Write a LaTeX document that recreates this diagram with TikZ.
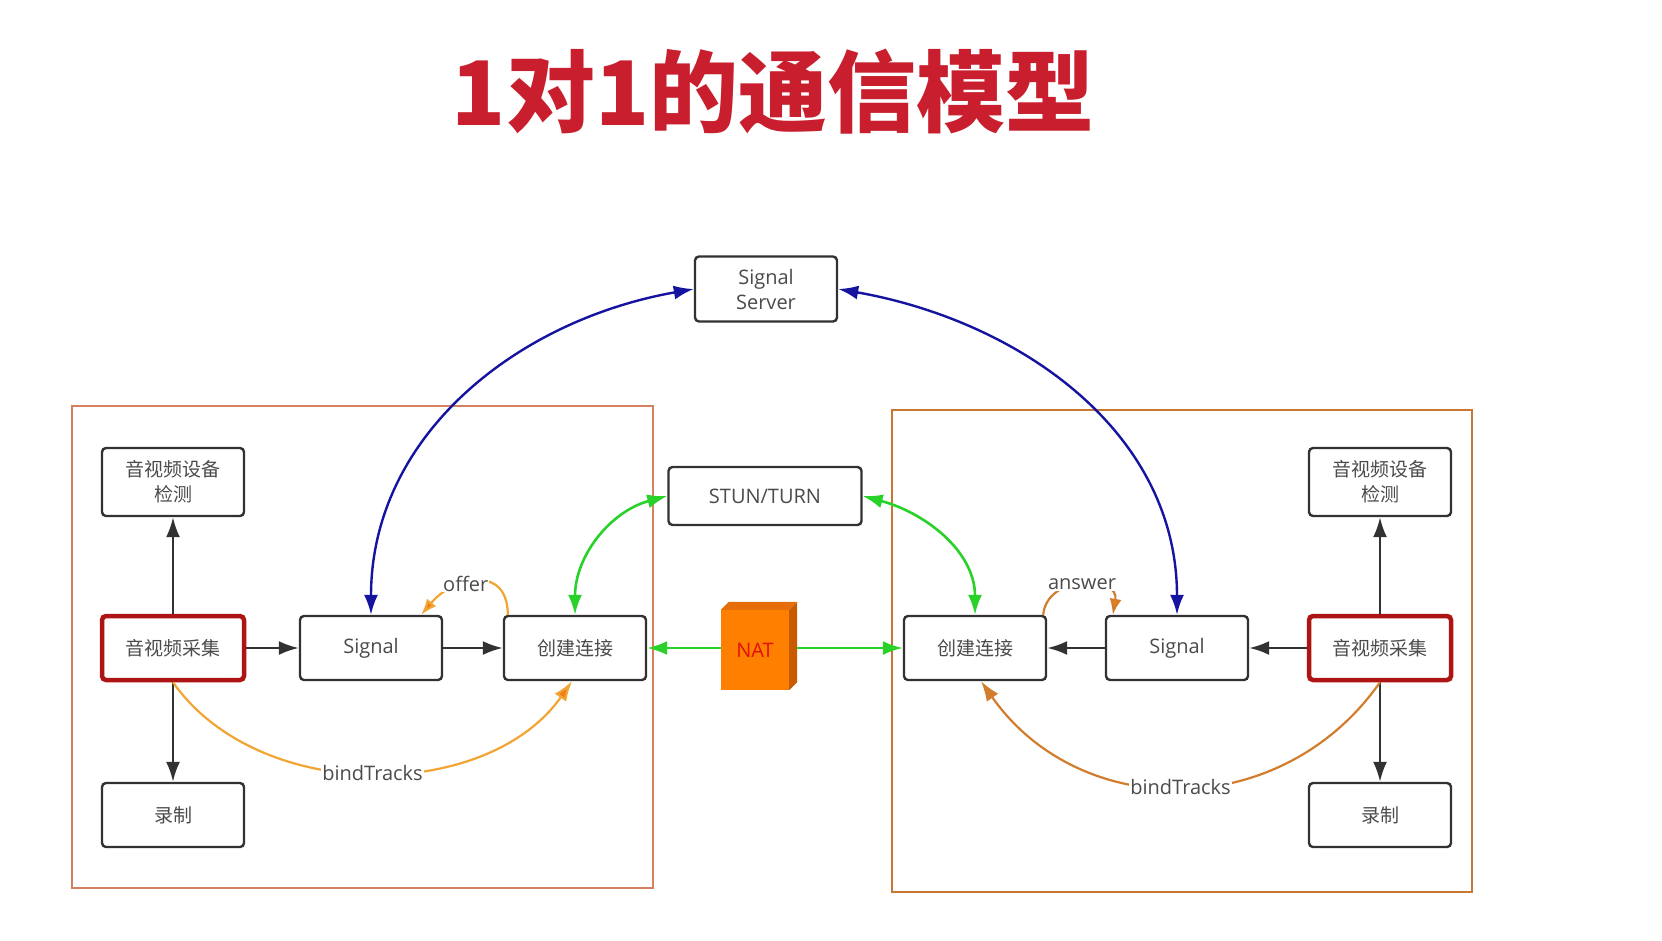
\documentclass[tikz,border=0pt]{standalone}
\usepackage{fontspec}
\setmainfont{Open Sans}
\newfontfamily\cjk{Noto Sans CJK SC}
\usetikzlibrary{arrows.meta}
\definecolor{boxline}{RGB}{50,50,50}
\definecolor{textgray}{RGB}{75,75,75}
\definecolor{capred}{RGB}{175,20,20}
\definecolor{titlered}{RGB}{200,30,45}
\definecolor{lframe}{RGB}{214,128,98}
\definecolor{rframe}{RGB}{200,120,50}
\definecolor{sigblue}{RGB}{20,20,160}
\definecolor{netgreen}{RGB}{40,210,40}
\definecolor{orgL}{RGB}{242,165,50}
\definecolor{orgR}{RGB}{210,125,45}
\definecolor{orgtip}{RGB}{240,125,20}
\definecolor{natfront}{RGB}{255,128,0}
\definecolor{natside}{RGB}{200,90,0}
\definecolor{nattop}{RGB}{230,110,10}
\begin{document}
\begin{tikzpicture}[x=1pt,y=1pt,
  box/.style={draw=boxline, line width=2.4pt, rounded corners=4pt, fill=white,
    text=textgray, minimum width=142pt, minimum height=64pt, inner sep=2pt,
    font=\fontsize{20}{25}\selectfont, align=center},
  cjkbox/.style={box, font=\cjk\fontsize{19}{25}\selectfont},
  capbox/.style={cjkbox, draw=capred, line width=4.5pt},
  blk/.style={draw=boxline, line width=2.4pt, -{Latex[length=20pt,width=14pt]}},
  bluearrow/.style={draw=sigblue, line width=2.4pt, {Latex[length=20pt,width=14pt]}-{Latex[length=20pt,width=14pt]}},
  greenarrow/.style={draw=netgreen, line width=2.6pt, {Latex[length=20pt,width=14pt]}-{Latex[length=20pt,width=14pt]}},
  greenone/.style={draw=netgreen, line width=2.6pt, -{Latex[length=20pt,width=14pt]}},
  orangearrow/.style={draw=orgL, line width=2.2pt, -{Latex[length=16pt,width=12pt,fill=orgtip]}},
  bindL/.style={draw=orgL, line width=2.2pt, -{Latex[length=20pt,width=14pt,fill=orgtip]}},
  bindR/.style={draw=orgR, line width=2.2pt, -{Latex[length=20pt,width=14pt,fill=orgR]}},
  lbl/.style={fill=white, inner sep=1pt, text=textgray, font=\fontsize{20}{24}\selectfont},
  frame/.style={line width=2pt}
]
\useasboundingbox (0,0) rectangle (1662,-940);
\fill[white] (0,0) rectangle (1662,-940);

% title
\node[text=titlered, font=\cjk\bfseries\fontsize{89}{95}\selectfont] (title) at (773,-92) {1对1的通信模型};

% frames
\draw[frame, draw=lframe] (72,-406) rectangle (653,-888);
\draw[frame, draw=rframe] (892,-410) rectangle (1472,-892);

% central nodes
\node[box, minimum height=65pt] (ss) at (766,-289) {Signal\\Server};
\node[box, minimum width=193pt, minimum height=58pt] (stun) at (765,-496) {STUN/TURN};
\node[fill=natfront, minimum width=68pt, minimum height=80pt, inner sep=0pt,
      text={rgb,255:red,225;green,15;blue,15}, font=\fontsize{20}{24}\selectfont] (nat) at (755,-650) {NAT};
\fill[nattop] (nat.north west) -- ++(8,8) -- ([shift={(8,8)}]nat.north east) -- (nat.north east) -- cycle;
\fill[natside] (nat.north east) -- ++(8,8) -- ([shift={(8,8)}]nat.south east) -- (nat.south east) -- cycle;
\coordinate (natl) at (nat.west |- 0,-648);
\coordinate (natr) at ([xshift=8pt]nat.east |- 0,-648);

% left side
\node[cjkbox, minimum height=68pt] (ldet) at (173,-482) {音视频设备\\检测};
\node[capbox] (lcap) at (173,-648) {音视频采集};
\node[cjkbox] (lrec) at (173,-815) {录制};
\node[box] (lsig) at (371,-648) {Signal};
\node[cjkbox] (lconn) at (575,-648) {创建连接};

% right side
\node[cjkbox] (rconn) at (975,-648) {创建连接};
\node[box] (rsig) at (1177,-648) {Signal};
\node[capbox] (rcap) at (1380,-648) {音视频采集};
\node[cjkbox, minimum height=68pt] (rdet) at (1380,-482) {音视频设备\\检测};
\node[cjkbox] (rrec) at (1380,-815) {录制};

% black arrows
\draw[blk] (lcap) -- (ldet);
\draw[blk] (lcap) -- (lrec);
\draw[blk] (lcap) -- (lsig);
\draw[blk] (lsig) -- (lconn);
\draw[blk] (rcap) -- (rdet);
\draw[blk] (rcap) -- (rrec);
\draw[blk] (rcap) -- (rsig);
\draw[blk] (rsig) -- (rconn);

% signalling
\draw[bluearrow] (lsig.north) to[out=90,in=190] (ss.west);
\draw[bluearrow] (rsig.north) to[out=90,in=-10] (ss.east);

% stun / nat
\draw[greenarrow] (lconn.north) to[out=90,in=195] (stun.west);
\draw[greenarrow] (rconn.north) to[out=90,in=-15] (stun.east);
\draw[greenone] (natl) -- (lconn.east);
\draw[greenone] (natr) -- (rconn.west);

% offer / answer
\draw[orangearrow] ([xshift=5pt]lconn.north west) to[out=90,in=50,looseness=1.5]
  node[lbl, pos=0.6] {offer} ([xshift=-22pt]lsig.north east);
\draw[orangearrow, draw=orgR] ([xshift=-4pt]rconn.north east) to[out=85,in=80,looseness=1.5]
  node[lbl, pos=0.5] {answer} ([xshift=8pt]rsig.north west);

% bindTracks
\draw[bindL] (lcap.south) to[out=-55,in=-125,looseness=0.95]
  node[lbl, pos=0.5] {bindTracks} ([xshift=-3pt]lconn.south);
\draw[bindR] (rcap.south) to[out=-125,in=-55,looseness=1.1]
  node[lbl, pos=0.5] {bindTracks} ([xshift=6pt]rconn.south);
\end{tikzpicture}
\end{document}
